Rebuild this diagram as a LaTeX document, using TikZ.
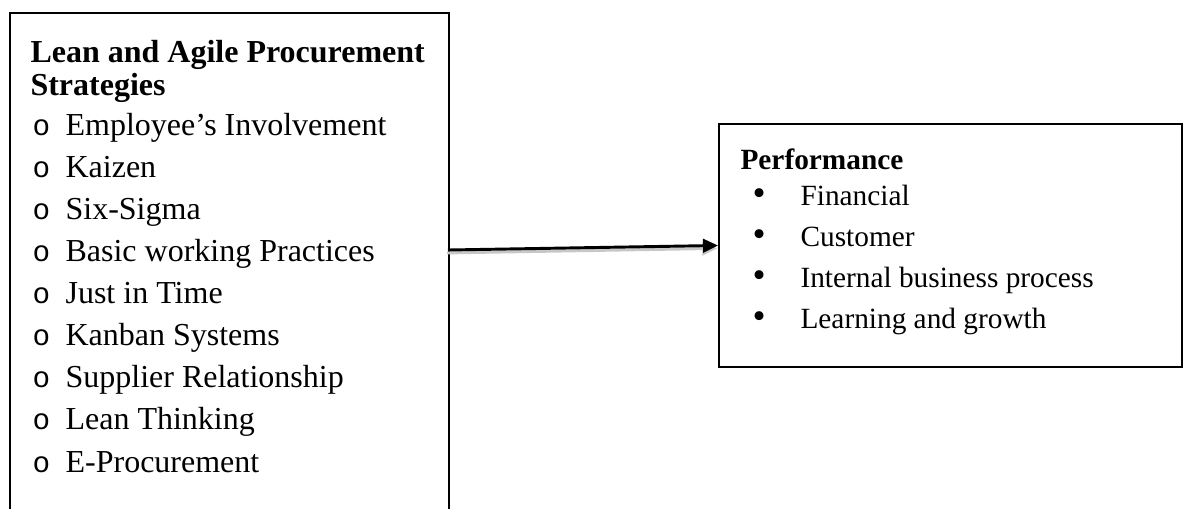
\documentclass[tikz,border=0pt]{standalone}
\usepackage{fontspec}
\setmainfont{Liberation Serif}
\newfontfamily\ringfont{Liberation Mono}
\usetikzlibrary{arrows.meta,positioning}

\begin{document}
\begin{tikzpicture}[
x=0.375pt, y=-0.375pt,
box/.style={draw=black, line width=0.75pt, inner sep=0pt, anchor=north west},
leanhead/.style={font=\fontsize{12}{14}\selectfont\bfseries, anchor=base west, inner sep=0pt},
leanitem/.style={font=\fontsize{12}{14}\selectfont, anchor=base west, inner sep=0pt},
perfhead/.style={font=\fontsize{11}{13}\selectfont\bfseries, anchor=base west, inner sep=0pt},
perfitem/.style={font=\fontsize{11}{13}\selectfont, anchor=base west, inner sep=0pt},
flow/.style={-{Triangle[length=5.6pt,width=5pt]}, line width=1.1pt},
]
\useasboundingbox (0,0) rectangle (1183,508);
\clip (0,0) rectangle (1183,508);

% Frames (the left one runs past the bottom edge)
\node[box, minimum width=164.6pt, minimum height=200pt] (lean) at (9,12) {};
\node[box, minimum width=173.6pt, minimum height=91.1pt] (perf) at (718,123) {};

% Left list
\node[leanhead] (lean_head) at (30,62) {Lean and Agile Procurement};
\node[leanhead] (lean_head2) at (30,95) {Strategies};
\node[leanitem] (emp) at (32,135) {\makebox[12.4pt][l]{\ringfont\fontsize{11}{11}\selectfont o}Employee’s Involvement};
\node[leanitem] (kaizen) at (32,177) {\makebox[12.4pt][l]{\ringfont\fontsize{11}{11}\selectfont o}Kaizen};
\node[leanitem] (sigma) at (32,219) {\makebox[12.4pt][l]{\ringfont\fontsize{11}{11}\selectfont o}Six-Sigma};
\node[leanitem] (basic) at (32,261) {\makebox[12.4pt][l]{\ringfont\fontsize{11}{11}\selectfont o}Basic working Practices};
\node[leanitem] (jit) at (32,303) {\makebox[12.4pt][l]{\ringfont\fontsize{11}{11}\selectfont o}Just in Time};
\node[leanitem] (kanban) at (32,345) {\makebox[12.4pt][l]{\ringfont\fontsize{11}{11}\selectfont o}Kanban Systems};
\node[leanitem] (supplier) at (32,387) {\makebox[12.4pt][l]{\ringfont\fontsize{11}{11}\selectfont o}Supplier Relationship};
\node[leanitem] (thinking) at (32,429) {\makebox[12.4pt][l]{\ringfont\fontsize{11}{11}\selectfont o}Lean Thinking};
\node[leanitem] (eproc) at (32,472) {\makebox[12.4pt][l]{\ringfont\fontsize{11}{11}\selectfont o}E-Procurement};

% Right list
\node[perfhead] (perf_head) at (740,169) {Performance};
\node[perfitem] (financial) at (752,205) {\makebox[18pt][l]{\fontsize{14}{14}\selectfont\textbullet}Financial};
\node[perfitem] (customer) at (752,246) {\makebox[18pt][l]{\fontsize{14}{14}\selectfont\textbullet}Customer};
\node[perfitem] (internal) at (752,287) {\makebox[18pt][l]{\fontsize{14}{14}\selectfont\textbullet}Internal business process};
\node[perfitem] (learning) at (752,328) {\makebox[18pt][l]{\fontsize{14}{14}\selectfont\textbullet}Learning and growth};

% Connector with its soft shadow
\coordinate (lean_out) at (448,250);
\draw[flow, color=black!22, transform canvas={xshift=-0.3pt, yshift=-1.1pt}] (lean_out) -- (perf.west);
\draw[flow] (lean_out) -- (perf.west);

\end{tikzpicture}
\end{document}
